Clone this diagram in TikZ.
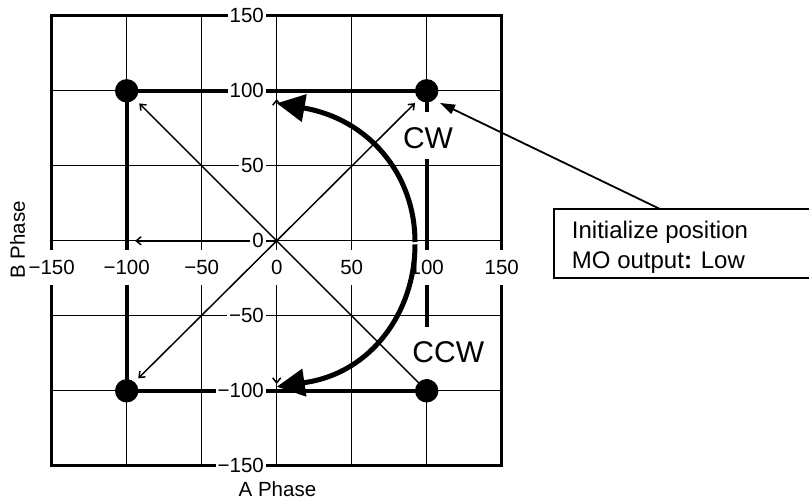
\documentclass[tikz,border=0pt]{standalone}
\usepackage{fontspec}
\setmainfont{Liberation Sans}
\usetikzlibrary{arrows.meta}
\begin{document}
\begin{tikzpicture}[x=1.5bp,y=1.5bp,
  gridline/.style={line width=1bp},
  border/.style={line width=2.6bp},
  thickline/.style={line width=4.2bp},
  thinline/.style={line width=1.5bp},
  thinarrow/.style={line width=1.5bp,-{Straight Barb[length=5bp,width=8bp]}},
  arcline/.style={line width=5bp,-{Triangle[length=28bp,width=27bp]}},
  ticklab/.style={fill=white,inner xsep=2bp,inner ysep=1bp,font=\fontsize{20.5bp}{24bp}\selectfont},
  ylab/.style={ticklab,anchor=east},
  xlab/.style={ticklab,inner ysep=0pt,minimum height=35bp},
  dirlab/.style={fill=white,inner sep=0pt,inner xsep=1bp,anchor=base,font=\fontsize{30bp}{34bp}\selectfont},
  axtitle/.style={inner sep=0pt,font=\fontsize{20.5bp}{24bp}\selectfont},
  dot/.style={circle,fill=black,inner sep=0pt,minimum size=23.4bp},
  boxline/.style={line width=1.3bp},
  leader/.style={line width=1.8bp,-{Triangle[length=15bp,width=10bp]}},
  inittext/.style={inner sep=0pt,align=left,anchor=north west,font=\fontsize{24bp}{30bp}\selectfont}]
\useasboundingbox (-184.47,-175.47) rectangle (354.87,160.53);
% grid
\foreach \v in {-100,-50,0,50,100} {
  \draw[gridline] (\v,-150) -- (\v,150);
  \draw[gridline] (-150,\v) -- (150,\v);
}
\draw[border] (-150,-150) rectangle (150,150);
% thick square
\draw[thickline] (-100,100) -- (100,100) -- (100,-100) -- (-100,-100) -- cycle;
% CW / CCW labels
\node[dirlab,text height=36.75bp,text depth=10.25bp] (cw) at (100.9,61.4) {CW};
\node[dirlab,text height=35.75bp,text depth=16.25bp] (ccw) at (114.4,-81.3) {CCW};
% origin and arrow ends
\coordinate (O) at (0,0);
\coordinate (tW) at (-94.5,0);
\coordinate (tN) at (0,94.5);
\coordinate (tS) at (0,-95.5);
\coordinate (tNW) at (-91.6,91.6);
\coordinate (tSW) at (-92.3,-91.7);
\coordinate (tNE) at (92.2,91.8);
\coordinate (pSE) at (100,-100);
\draw[thinarrow] (O) -- (tW);
\draw[thinarrow] (O) -- (tN);
\draw[thinarrow] (O) -- (tS);
\draw[thinarrow] (O) -- (tNW);
\draw[thinarrow] (O) -- (tSW);
\draw[thinarrow] (O) -- (tNE);
\draw[thinline] (O) -- (pSE);
% y tick labels
\foreach \v/\t/\n in {150/150/p150,100/100/p100,50/50/p50,0/0/z,-50/−50/m50,-100/−100/m100,-150/−150/m150}
  \node[ylab] (y\n) at (-7.1,\v) {\t};
% x tick labels
\foreach \v/\t/\n in {-150/−150/m150,-100/−100/m100,-50/−50/m50,0/0/z,50/50/p50,100/100/p100,150/150/p150}
  \node[xlab] (x\n) at (\v,-17.8) {\t};
% axis titles
\node[axtitle] (aph) at (0.5,-165.5) {A Phase};
\node[axtitle,rotate=90] (bph) at (-172.8,0.5) {B Phase};
% rotation arcs
\coordinate (cwS) at (92.2,-0.8);
\coordinate (cwB) at (18.2,88.5);
\coordinate (cwT) at (0,91.7);
\coordinate (ccS) at (92.2,-2.4);
\coordinate (ccB) at (18.9,-94.5);
\coordinate (ccT) at (0,-97.3);
\draw[arcline] (cwS) .. controls (92.2,45) and (60.6,81.1) .. (cwB) -- (cwT);
\draw[arcline] (ccS) .. controls (92.2,-47) and (63.5,-87.9) .. (ccB) -- (ccT);
% dots
\node[dot] (dNW) at (-100,100) {};
\node[dot] (dNE) at (100,100) {};
\node[dot] (dSW) at (-100,-100) {};
\node[dot] (dSE) at (100,-100) {};
% annotation box
\draw[boxline] (354.87,21.2) -- (184.9,21.2) -- (184.9,-24.8) -- (354.87,-24.8);
\node[inittext] (init) at (196.7,13.3) {Initialize position\\MO output\textbf{:} Low};
\coordinate (boxtop) at (255.5,21.2);
\coordinate (lt) at (108.9,91.9);
\draw[leader] (boxtop) -- (lt);
\end{tikzpicture}
\end{document}
